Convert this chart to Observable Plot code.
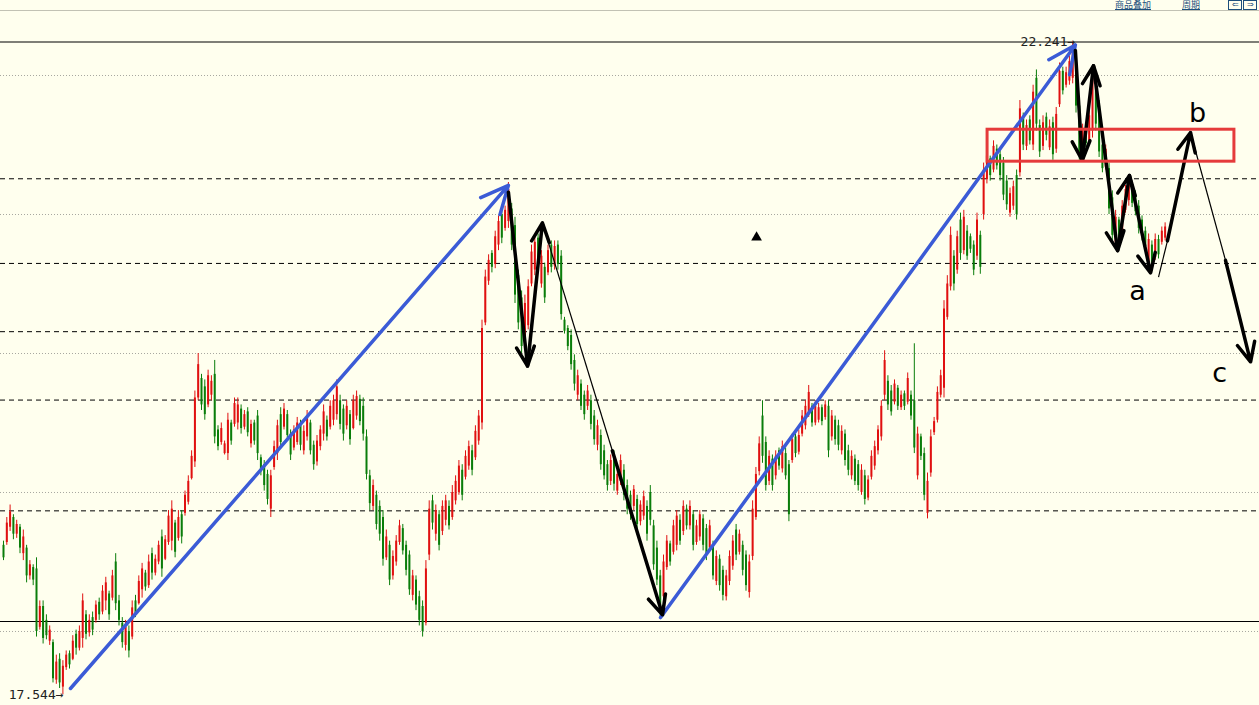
<!DOCTYPE html>
<html><head><meta charset="utf-8">
<script src="https://cdn.jsdelivr.net/npm/d3@7"></script>
<script src="https://cdn.jsdelivr.net/npm/@observablehq/plot@0.6"></script>
<style>
html,body{margin:0;padding:0;background:#ffffee;overflow:hidden;}
#wrap{position:relative;width:1259px;height:705px;background:#ffffee;}
#chart{position:absolute;left:0;top:0;}
.tb{position:absolute;top:0px;font:9px/10px "Noto Sans CJK SC",sans-serif;color:#1d4f7c;text-decoration:underline;white-space:nowrap;}
#topline{position:absolute;left:0;top:10px;width:1259px;height:1px;background:#c2c2b4;}
.ib{position:absolute;top:0px;width:12px;height:8px;border:1px solid #1d4f7c;font:8px/8px sans-serif;color:#1d4f7c;text-align:center;}
</style></head>
<body><div id="wrap"><div id="chart"></div><div id="topline"></div>
<div class="tb" style="left:1115px">商品叠加</div>
<div class="tb" style="left:1182px">周期</div>
<div class="ib" style="left:1228px">⇐</div><div class="ib" style="left:1243px">⇒</div>
</div>
<script>
const open = [
18.62,18.64,18.75,18.82,18.70,18.75,18.56,18.60,18.40,18.46,
18.45,18.03,18.18,18.08,17.93,17.92,17.65,17.80,17.60,17.74,
17.84,17.80,17.98,17.88,17.95,18.12,17.99,18.10,18.08,18.21,
18.14,18.22,18.27,18.24,18.50,18.22,18.06,17.90,18.00,17.96,
18.22,18.20,18.30,18.42,18.33,18.56,18.42,18.50,18.68,18.52,
18.64,18.65,18.78,18.67,18.84,18.85,18.93,19.10,19.22,19.68,
19.82,19.76,19.63,19.70,19.85,19.45,19.36,19.28,19.28,19.50,
19.49,19.50,19.60,19.47,19.58,19.35,19.50,19.55,19.25,19.20,
19.13,18.88,19.18,19.28,19.56,19.47,19.56,19.42,19.32,19.36,
19.48,19.30,19.40,19.50,19.34,19.22,19.33,19.42,19.52,19.47,
19.52,19.56,19.66,19.60,19.48,19.56,19.46,19.55,19.67,19.62,
19.40,19.12,18.90,18.98,18.90,18.82,18.53,18.62,18.40,18.50,
18.64,18.74,18.62,18.55,18.26,18.37,18.25,18.18,18.06,18.55,
18.94,18.70,18.84,18.72,18.80,18.90,18.82,18.94,19.00,19.16,
19.11,19.19,19.30,19.25,19.37,19.50,20.22,20.52,20.72,20.64,
20.78,21.00,20.90,20.95,21.04,20.92,20.56,20.40,20.10,20.20,
20.50,20.60,20.83,20.50,20.62,20.58,20.78,20.63,20.78,20.70,
20.24,20.18,20.13,19.95,19.70,19.78,19.70,19.62,19.66,19.55,
19.34,19.41,19.30,19.20,19.08,19.26,19.01,19.08,19.16,19.05,
18.98,18.90,18.95,18.79,18.83,18.90,19.00,18.76,18.60,18.40,
18.25,18.46,18.63,18.57,18.62,18.80,18.72,18.88,18.76,18.84,
18.64,18.68,18.81,18.74,18.60,18.62,18.36,18.52,18.44,18.25,
18.36,18.47,18.73,18.57,18.62,18.55,18.28,18.54,18.82,19.15,
19.55,19.36,19.08,19.24,19.12,19.30,19.17,19.28,19.20,19.23,
19.40,19.29,19.42,19.48,19.57,19.62,19.50,19.52,19.61,19.54,
19.62,19.40,19.52,19.48,19.30,19.42,19.30,19.12,19.24,19.20,
19.00,19.12,18.96,19.11,19.19,19.30,19.40,19.70,19.80,19.73,
19.65,19.75,19.61,19.71,19.65,19.70,19.66,19.12,19.40,19.28,
18.85,19.14,19.43,19.52,19.70,19.75,20.26,20.48,20.70,20.60,
20.96,20.74,20.88,20.84,20.78,20.70,20.85,21.00,21.25,21.40,
21.32,21.47,21.43,21.37,21.24,21.01,21.06,21.28,21.30,21.70,
21.49,21.68,21.50,21.98,21.64,21.49,21.70,21.48,21.66,21.47,
21.79,22.03,21.93,21.96,21.98,22.08,21.78,21.50,21.62,21.53,
21.60,21.97,21.78,21.50,21.34,21.33,21.12,20.80,20.96,20.88,
21.03,21.10,21.17,21.14,21.06,20.96,20.88,20.62,20.78,20.69,
20.82,20.80,20.83];
const high = [
18.65,18.82,18.91,18.84,18.80,18.77,18.73,18.62,18.51,18.48,
18.53,18.22,18.22,18.12,18.04,17.94,17.83,17.84,17.79,17.86,
17.86,17.97,18.01,18.04,18.27,18.15,18.12,18.14,18.22,18.24,
18.33,18.39,18.29,18.44,18.56,18.26,18.10,18.08,18.04,18.22,
18.26,18.40,18.49,18.44,18.55,18.60,18.55,18.65,18.73,18.69,
18.87,18.94,18.80,18.87,18.87,19.01,19.12,19.30,19.73,20.00,
19.85,19.81,19.88,19.84,19.95,19.48,19.50,19.37,19.57,19.52,
19.68,19.68,19.63,19.59,19.61,19.52,19.52,19.59,19.27,19.23,
19.16,19.16,19.37,19.52,19.61,19.64,19.59,19.45,19.48,19.54,
19.52,19.48,19.59,19.52,19.37,19.41,19.48,19.63,19.55,19.66,
19.70,19.81,19.70,19.63,19.66,19.59,19.70,19.73,19.70,19.68,
19.45,19.16,19.09,19.01,18.94,18.87,18.73,18.65,18.58,18.69,
18.80,18.77,18.65,18.58,18.44,18.40,18.29,18.22,18.51,18.94,
18.98,18.91,18.87,18.94,18.98,18.94,19.05,19.12,19.23,19.20,
19.30,19.37,19.34,19.48,19.59,20.24,20.60,20.71,20.74,20.88,
20.99,21.03,21.06,21.23,21.08,20.98,20.60,20.45,20.42,20.53,
20.78,20.84,20.86,20.74,20.65,20.78,20.81,20.81,20.81,20.74,
20.26,20.20,20.17,19.99,19.88,19.81,19.73,19.77,19.70,19.59,
19.52,19.45,19.34,19.23,19.27,19.30,19.16,19.27,19.20,19.09,
19.01,19.05,18.98,18.94,19.01,18.94,19.05,18.80,18.65,18.44,
18.55,18.69,18.65,18.80,18.87,18.84,18.94,18.91,18.94,18.87,
18.80,18.87,18.84,18.77,18.80,18.65,18.58,18.55,18.47,18.44,
18.58,18.69,18.77,18.73,18.65,18.58,18.55,18.94,19.18,19.40,
19.66,19.40,19.30,19.27,19.30,19.32,19.37,19.32,19.23,19.42,
19.42,19.45,19.59,19.66,19.77,19.64,19.66,19.64,19.63,19.66,
19.66,19.59,19.55,19.52,19.48,19.45,19.34,19.30,19.27,19.23,
19.20,19.16,19.12,19.30,19.37,19.48,19.66,20.02,19.84,19.77,
19.81,19.77,19.73,19.73,19.86,19.73,20.07,19.47,19.42,19.32,
19.14,19.45,19.54,19.76,19.88,20.38,20.56,20.91,20.74,20.88,
21.01,21.03,20.92,20.86,20.81,21.01,20.88,21.37,21.46,21.42,
21.53,21.50,21.46,21.41,21.28,21.19,21.24,21.32,21.82,21.73,
21.68,21.71,21.93,22.04,21.68,21.71,21.73,21.68,21.70,21.77,
22.09,22.06,22.06,22.14,22.241,22.13,21.82,21.65,21.64,21.75,
22.04,22.01,21.82,21.53,21.50,21.37,21.17,21.03,20.98,21.10,
21.21,21.28,21.19,21.17,21.10,20.99,20.91,20.86,20.81,20.86,
20.85,20.91,20.94];
const low = [
18.51,18.62,18.72,18.66,18.67,18.56,18.51,18.35,18.37,18.33,
17.96,18.01,17.91,17.94,17.90,17.63,17.62,17.59,17.544,17.72,
17.73,17.79,17.83,17.86,17.88,17.94,17.96,17.97,18.06,18.08,
18.12,18.15,18.08,18.22,18.15,18.04,17.88,17.86,17.81,17.94,
18.10,18.19,18.24,18.29,18.31,18.37,18.40,18.48,18.39,18.51,
18.62,18.58,18.53,18.65,18.63,18.83,18.91,19.09,19.18,19.66,
19.59,19.52,19.61,19.66,19.35,19.30,19.34,19.27,19.23,19.34,
19.47,19.45,19.42,19.45,19.40,19.32,19.34,19.23,19.12,19.01,
18.91,18.82,19.16,19.23,19.32,19.45,19.37,19.23,19.30,19.34,
19.30,19.27,19.37,19.27,19.16,19.19,19.30,19.37,19.37,19.45,
19.48,19.52,19.45,19.37,19.45,19.34,19.45,19.52,19.48,19.37,
19.09,18.87,18.87,18.73,18.65,18.47,18.51,18.33,18.37,18.47,
18.62,18.55,18.40,18.26,18.22,18.15,18.04,17.96,18.04,18.51,
18.73,18.65,18.58,18.69,18.76,18.73,18.80,18.91,18.98,18.94,
19.09,19.16,19.12,19.23,19.34,19.45,20.20,20.49,20.58,20.61,
20.74,20.79,20.88,20.90,20.74,20.36,20.17,20.00,20.06,20.17,
20.48,20.56,20.60,20.47,20.36,20.56,20.58,20.60,20.60,20.24,
20.14,20.02,19.88,19.73,19.66,19.59,19.52,19.59,19.45,19.34,
19.30,19.16,19.09,19.01,19.05,19.01,18.98,19.05,18.94,18.84,
18.80,18.87,18.73,18.76,18.80,18.65,18.76,18.44,18.33,18.10,
18.22,18.44,18.47,18.55,18.58,18.62,18.69,18.73,18.73,18.58,
18.62,18.65,18.58,18.51,18.58,18.37,18.33,18.29,18.22,18.22,
18.33,18.44,18.51,18.55,18.40,18.29,18.24,18.51,18.80,19.12,
19.21,19.01,19.05,19.01,19.09,19.16,19.14,19.09,18.79,19.21,
19.25,19.27,19.40,19.45,19.54,19.47,19.48,19.50,19.48,19.52,
19.25,19.37,19.34,19.30,19.27,19.19,19.12,19.09,19.05,19.01,
18.98,18.91,18.94,19.09,19.16,19.27,19.37,19.66,19.59,19.55,
19.63,19.59,19.59,19.59,19.63,19.52,19.28,19.09,19.23,18.94,
18.81,19.11,19.41,19.50,19.68,19.68,20.24,20.45,20.45,20.57,
20.67,20.71,20.67,20.72,20.56,20.67,20.57,20.96,21.22,21.24,
21.30,21.32,21.24,21.10,21.03,20.98,21.03,20.96,21.27,21.46,
21.46,21.50,21.46,21.60,21.41,21.46,21.53,21.46,21.39,21.44,
21.77,21.86,21.91,21.93,21.94,21.73,21.39,21.48,21.48,21.50,
21.55,21.60,21.41,21.30,21.32,21.00,20.81,20.78,20.81,20.85,
21.01,21.06,21.05,20.99,20.86,20.81,20.74,20.60,20.61,20.67,
20.68,20.78,20.81];
const close = [
18.53,18.78,18.86,18.70,18.77,18.60,18.68,18.40,18.48,18.37,
18.00,18.18,17.95,17.97,18.01,17.66,17.78,17.63,17.75,17.83,
17.76,17.93,17.88,18.00,18.22,17.98,18.08,18.01,18.19,18.12,
18.29,18.35,18.12,18.40,18.20,18.08,17.92,18.03,17.86,18.17,
18.13,18.36,18.45,18.32,18.50,18.42,18.52,18.62,18.45,18.66,
18.83,18.88,18.57,18.82,18.68,18.98,19.08,19.26,19.68,19.92,
19.63,19.56,19.84,19.80,19.40,19.33,19.46,19.35,19.52,19.37,
19.64,19.63,19.46,19.56,19.43,19.49,19.37,19.28,19.15,19.05,
18.95,19.12,19.33,19.48,19.36,19.60,19.41,19.27,19.45,19.50,
19.34,19.44,19.55,19.30,19.20,19.37,19.45,19.58,19.40,19.62,
19.66,19.76,19.49,19.42,19.62,19.38,19.66,19.69,19.51,19.42,
19.13,18.92,19.05,18.77,18.70,18.52,18.68,18.37,18.54,18.65,
18.76,18.58,18.44,18.30,18.40,18.19,18.08,18.00,18.45,18.88,
18.78,18.87,18.62,18.90,18.94,18.76,19.00,19.08,19.19,18.98,
19.26,19.33,19.16,19.44,19.55,20.18,20.55,20.67,20.62,20.84,
20.95,20.83,21.03,21.18,20.78,20.42,20.22,20.05,20.36,20.48,
20.73,20.80,20.64,20.70,20.40,20.74,20.62,20.77,20.64,20.28,
20.16,20.05,19.92,19.78,19.84,19.62,19.56,19.73,19.49,19.38,
19.48,19.20,19.12,19.05,19.23,19.06,19.13,19.23,18.98,18.88,
18.84,19.02,18.77,18.91,18.97,18.70,18.80,18.48,18.37,18.14,
18.50,18.65,18.50,18.76,18.83,18.65,18.90,18.76,18.90,18.62,
18.76,18.84,18.62,18.55,18.76,18.40,18.54,18.33,18.26,18.40,
18.54,18.65,18.55,18.70,18.44,18.33,18.50,18.88,19.13,19.35,
19.26,19.05,19.26,19.05,19.26,19.19,19.33,19.12,18.84,19.38,
19.28,19.41,19.55,19.62,19.72,19.50,19.62,19.61,19.51,19.63,
19.30,19.55,19.38,19.34,19.44,19.23,19.16,19.26,19.08,19.05,
19.16,18.95,19.09,19.26,19.33,19.45,19.62,19.95,19.63,19.58,
19.78,19.62,19.70,19.62,19.82,19.55,19.32,19.42,19.26,18.98,
19.08,19.40,19.51,19.72,19.84,20.32,20.50,20.85,20.50,20.84,
20.72,20.98,20.70,20.75,20.60,20.96,20.62,21.32,21.42,21.28,
21.49,21.35,21.28,21.14,21.07,21.15,21.20,21.00,21.76,21.50,
21.64,21.53,21.88,21.65,21.45,21.66,21.57,21.63,21.43,21.72,
22.03,21.89,22.02,22.10,22.18,21.78,21.44,21.62,21.51,21.71,
21.98,21.65,21.45,21.33,21.47,21.04,20.85,20.98,20.84,21.06,
21.18,21.24,21.08,21.02,20.90,20.84,20.77,20.82,20.65,20.82,
20.71,20.88,20.91];

// reference levels
const gridLevels = [18, 19, 20, 21, 22];
const fibLevels = [21.257, 20.648, 20.157, 19.665, 18.868];
const rangeLevels = [22.241, 18.072];
const priceTags = [{i: 324.8, v: 22.241}, {i: 18.2, v: 17.544}];

// annotations (bar index, price)
const blueArrows = [
  {x1: 20.3, y1: 17.59, x2: 153.0, y2: 21.21},
  {x1: 199.1, y1: 18.10, x2: 324.8, y2: 22.22}
];
const blackArrows = [
  {x1: 153.0, y1: 21.16, x2: 158.8, y2: 19.91},
  {x1: 158.8, y1: 19.91, x2: 163.3, y2: 20.94},
  {x1: 184.5, y1: 19.30, x2: 199.7, y2: 18.12},
  {x1: 324.8, y1: 22.18, x2: 326.9, y2: 21.39},
  {x1: 326.9, y1: 21.39, x2: 330.3, y2: 22.07},
  {x1: 330.3, y1: 22.07, x2: 337.6, y2: 20.74},
  {x1: 337.6, y1: 20.74, x2: 341.2, y2: 21.28},
  {x1: 341.2, y1: 21.28, x2: 347.6, y2: 20.58},
  {x1: 352.7, y1: 20.81, x2: 359.7, y2: 21.59},
  {x1: 370.3, y1: 20.67, x2: 377.9, y2: 19.94}
];
const thinLines = [
  {x1: 163.3, y1: 20.94, x2: 184.5, y2: 19.30},
  {x1: 350.0, y1: 20.55, x2: 352.7, y2: 20.81},
  {x1: 359.7, y1: 21.59, x2: 370.3, y2: 20.67}
];
const zoneBox = [{x1: 298.2, x2: 373.0, y1: 21.38, y2: 21.61}];
const waveLabels = [
  {x: 343.6, y: 20.45, t: "a"},
  {x: 361.8, y: 21.73, t: "b"},
  {x: 368.5, y: 19.86, t: "c"}
];
const marker = [{x: 228.2, y: 20.835}];

const bars = open.map((o, k) => ({i: k, o, h: high[k], l: low[k], c: close[k], up: close[k] >= o}));
const RED = "#e01010", GREEN = "#0a7d0a";

const chart = Plot.plot({
  width: 1259, height: 705, margin: 0,
  style: {background: "transparent", overflow: "visible"},
  x: {domain: [-0.909, 380.6], axis: null},
  y: {domain: [17.4676, 22.5396], axis: null},
  marks: [
    Plot.ruleY(gridLevels, {stroke: "#a8a8a0", strokeDasharray: "1,2"}),
    Plot.ruleY(fibLevels, {stroke: "#000", strokeDasharray: "5,4"}),
    Plot.ruleY(rangeLevels, {stroke: "#000", strokeWidth: 1.2}),
    Plot.ruleX(bars, {x: "i", y1: "l", y2: "h", stroke: d => d.up ? RED : GREEN, strokeWidth: 1}),
    Plot.ruleX(bars, {x: "i", y1: "o", y2: "c", stroke: d => d.up ? RED : GREEN, strokeWidth: 2}),
    Plot.link(thinLines, {x1: "x1", y1: "y1", x2: "x2", y2: "y2", stroke: "#000", strokeWidth: 1.2}),
    Plot.arrow(blueArrows, {x1: "x1", y1: "y1", x2: "x2", y2: "y2", stroke: "#3b5bd6", strokeWidth: 3.5, headLength: 13, headAngle: 50}),
    Plot.arrow(blackArrows, {x1: "x1", y1: "y1", x2: "x2", y2: "y2", stroke: "#000", strokeWidth: 3.5, headLength: 9, headAngle: 50}),
    Plot.rect(zoneBox, {x1: "x1", x2: "x2", y1: "y1", y2: "y2", fill: "none", stroke: "#e53b3b", strokeWidth: 3}),
    Plot.dot(marker, {x: "x", y: "y", symbol: "triangle", r: 4, fill: "#000", stroke: null}),
    Plot.text(waveLabels, {x: "x", y: "y", text: "t", fontSize: 27, fill: "#000", fontFamily: "DejaVu Sans"}),
    Plot.text(priceTags, {x: "i", y: "v", text: d => d.v.toFixed(3) + "→", textAnchor: "end", fontSize: 13, fontFamily: "DejaVu Sans Mono", fill: "#222"})
  ]
});
document.getElementById("chart").appendChild(chart);
</script></body></html>
